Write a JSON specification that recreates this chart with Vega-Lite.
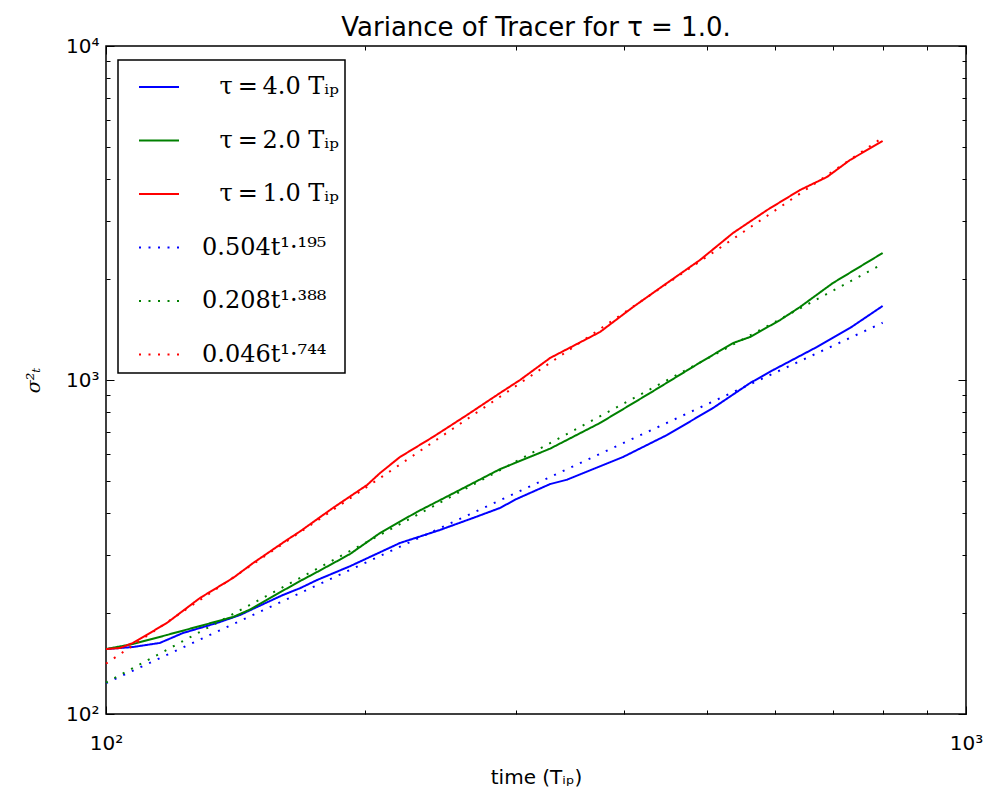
{
  "$schema": "https://vega.github.io/schema/vega-lite/v6.json",
  "width": 860,
  "height": 668,
  "autosize": {"type": "none"},
  "padding": {"left": 106, "top": 46, "right": 25, "bottom": 85},
  "background": "white",
  "title": {"text": "Variance of Tracer for τ = 1.0.", "font": "DejaVu Sans", "fontSize": 26, "fontWeight": "normal", "color": "black", "anchor": "middle", "offset": -5},
  "config": {
    "view": {"stroke": "black", "strokeWidth": 1.5},
    "legend": {"strokeWidth": 1.5}
  },
  "datasets": {
    "curves": [
      {"s": "\u2800τ\u2009=\u20094.0 Tᵢₚ", "t": 100, "v": 156.5},
      {"s": "\u2800τ\u2009=\u20094.0 Tᵢₚ", "t": 107.5, "v": 158.7},
      {"s": "\u2800τ\u2009=\u20094.0 Tᵢₚ", "t": 115.5, "v": 163.2},
      {"s": "\u2800τ\u2009=\u20094.0 Tᵢₚ", "t": 122.9, "v": 174.8},
      {"s": "\u2800τ\u2009=\u20094.0 Tᵢₚ", "t": 134.6, "v": 187.3},
      {"s": "\u2800τ\u2009=\u20094.0 Tᵢₚ", "t": 143.2, "v": 197.9},
      {"s": "\u2800τ\u2009=\u20094.0 Tᵢₚ", "t": 149.8, "v": 209.1},
      {"s": "\u2800τ\u2009=\u20094.0 Tᵢₚ", "t": 160.6, "v": 227.1},
      {"s": "\u2800τ\u2009=\u20094.0 Tᵢₚ", "t": 168.1, "v": 238},
      {"s": "\u2800τ\u2009=\u20094.0 Tᵢₚ", "t": 176.0, "v": 251.9},
      {"s": "\u2800τ\u2009=\u20094.0 Tᵢₚ", "t": 192.2, "v": 277},
      {"s": "\u2800τ\u2009=\u20094.0 Tᵢₚ", "t": 219.7, "v": 325.1},
      {"s": "\u2800τ\u2009=\u20094.0 Tᵢₚ", "t": 244.5, "v": 355.6},
      {"s": "\u2800τ\u2009=\u20094.0 Tᵢₚ", "t": 267.2, "v": 386.3},
      {"s": "\u2800τ\u2009=\u20094.0 Tᵢₚ", "t": 287.2, "v": 413.9},
      {"s": "\u2800τ\u2009=\u20094.0 Tᵢₚ", "t": 300, "v": 440},
      {"s": "\u2800τ\u2009=\u20094.0 Tᵢₚ", "t": 328.4, "v": 488},
      {"s": "\u2800τ\u2009=\u20094.0 Tᵢₚ", "t": 343.6, "v": 503},
      {"s": "\u2800τ\u2009=\u20094.0 Tᵢₚ", "t": 399.2, "v": 588.1},
      {"s": "\u2800τ\u2009=\u20094.0 Tᵢₚ", "t": 449.2, "v": 684.6},
      {"s": "\u2800τ\u2009=\u20094.0 Tᵢₚ", "t": 508.1, "v": 824.6},
      {"s": "\u2800τ\u2009=\u20094.0 Tᵢₚ", "t": 561.0, "v": 979.5},
      {"s": "\u2800τ\u2009=\u20094.0 Tᵢₚ", "t": 596.7, "v": 1071},
      {"s": "\u2800τ\u2009=\u20094.0 Tᵢₚ", "t": 671.0, "v": 1256},
      {"s": "\u2800τ\u2009=\u20094.0 Tᵢₚ", "t": 733.0, "v": 1431},
      {"s": "\u2800τ\u2009=\u20094.0 Tᵢₚ", "t": 800, "v": 1666},

      {"s": "\u2800τ\u2009=\u20092.0 Tᵢₚ", "t": 100, "v": 156.5},
      {"s": "\u2800τ\u2009=\u20092.0 Tᵢₚ", "t": 107.5, "v": 162.0},
      {"s": "\u2800τ\u2009=\u20092.0 Tᵢₚ", "t": 117.7, "v": 172.4},
      {"s": "\u2800τ\u2009=\u20092.0 Tᵢₚ", "t": 128.6, "v": 183.4},
      {"s": "\u2800τ\u2009=\u20092.0 Tᵢₚ", "t": 140.5, "v": 195.2},
      {"s": "\u2800τ\u2009=\u20092.0 Tᵢₚ", "t": 147.1, "v": 205.5},
      {"s": "\u2800τ\u2009=\u20092.0 Tᵢₚ", "t": 160.6, "v": 234},
      {"s": "\u2800τ\u2009=\u20092.0 Tᵢₚ", "t": 168.1, "v": 250},
      {"s": "\u2800τ\u2009=\u20092.0 Tᵢₚ", "t": 176.0, "v": 266.2},
      {"s": "\u2800τ\u2009=\u20092.0 Tᵢₚ", "t": 187.1, "v": 290},
      {"s": "\u2800τ\u2009=\u20092.0 Tᵢₚ", "t": 192.2, "v": 301.3},
      {"s": "\u2800τ\u2009=\u20092.0 Tᵢₚ", "t": 208.3, "v": 348.3},
      {"s": "\u2800τ\u2009=\u20092.0 Tᵢₚ", "t": 229.9, "v": 402.6},
      {"s": "\u2800τ\u2009=\u20092.0 Tᵢₚ", "t": 251.2, "v": 452.6},
      {"s": "\u2800τ\u2009=\u20092.0 Tᵢₚ", "t": 287.2, "v": 541},
      {"s": "\u2800τ\u2009=\u20092.0 Tᵢₚ", "t": 328.4, "v": 623},
      {"s": "\u2800τ\u2009=\u20092.0 Tᵢₚ", "t": 375.3, "v": 743.5},
      {"s": "\u2800τ\u2009=\u20092.0 Tᵢₚ", "t": 429.2, "v": 914.3},
      {"s": "\u2800τ\u2009=\u20092.0 Tᵢₚ", "t": 490.6, "v": 1128},
      {"s": "\u2800τ\u2009=\u20092.0 Tᵢₚ", "t": 535.9, "v": 1290},
      {"s": "\u2800τ\u2009=\u20092.0 Tᵢₚ", "t": 561.0, "v": 1345},
      {"s": "\u2800τ\u2009=\u20092.0 Tᵢₚ", "t": 607.9, "v": 1512},
      {"s": "\u2800τ\u2009=\u20092.0 Tᵢₚ", "t": 641.2, "v": 1654},
      {"s": "\u2800τ\u2009=\u20092.0 Tᵢₚ", "t": 700.3, "v": 1952},
      {"s": "\u2800τ\u2009=\u20092.0 Tᵢₚ", "t": 800, "v": 2400},

      {"s": "\u2800τ\u2009=\u20091.0 Tᵢₚ", "t": 100, "v": 156.5},
      {"s": "\u2800τ\u2009=\u20091.0 Tᵢₚ", "t": 103.8, "v": 157.6},
      {"s": "\u2800τ\u2009=\u20091.0 Tᵢₚ", "t": 107.5, "v": 163.2},
      {"s": "\u2800τ\u2009=\u20091.0 Tᵢₚ", "t": 117.7, "v": 187.3},
      {"s": "\u2800τ\u2009=\u20091.0 Tᵢₚ", "t": 128.6, "v": 222.5},
      {"s": "\u2800τ\u2009=\u20091.0 Tᵢₚ", "t": 140.5, "v": 255.4},
      {"s": "\u2800τ\u2009=\u20091.0 Tᵢₚ", "t": 148.3, "v": 283.2},
      {"s": "\u2800τ\u2009=\u20091.0 Tᵢₚ", "t": 162.3, "v": 331.9},
      {"s": "\u2800τ\u2009=\u20091.0 Tᵢₚ", "t": 168.1, "v": 352},
      {"s": "\u2800τ\u2009=\u20091.0 Tᵢₚ", "t": 183.6, "v": 413.9},
      {"s": "\u2800τ\u2009=\u20091.0 Tᵢₚ", "t": 201.2, "v": 485.0},
      {"s": "\u2800τ\u2009=\u20091.0 Tᵢₚ", "t": 208.3, "v": 526.7},
      {"s": "\u2800τ\u2009=\u20091.0 Tᵢₚ", "t": 219.7, "v": 588.1},
      {"s": "\u2800τ\u2009=\u20091.0 Tᵢₚ", "t": 240.0, "v": 675.2},
      {"s": "\u2800τ\u2009=\u20091.0 Tᵢₚ", "t": 262.9, "v": 785.7},
      {"s": "\u2800τ\u2009=\u20091.0 Tᵢₚ", "t": 287.2, "v": 914.3},
      {"s": "\u2800τ\u2009=\u20091.0 Tᵢₚ", "t": 303.0, "v": 1000},
      {"s": "\u2800τ\u2009=\u20091.0 Tᵢₚ", "t": 328.4, "v": 1164},
      {"s": "\u2800τ\u2009=\u20091.0 Tᵢₚ", "t": 375.3, "v": 1392},
      {"s": "\u2800τ\u2009=\u20091.0 Tᵢₚ", "t": 410.1, "v": 1654},
      {"s": "\u2800τ\u2009=\u20091.0 Tᵢₚ", "t": 449.2, "v": 1952},
      {"s": "\u2800τ\u2009=\u20091.0 Tᵢₚ", "t": 490.6, "v": 2287},
      {"s": "\u2800τ\u2009=\u20091.0 Tᵢₚ", "t": 535.9, "v": 2755},
      {"s": "\u2800τ\u2009=\u20091.0 Tᵢₚ", "t": 587.2, "v": 3228},
      {"s": "\u2800τ\u2009=\u20091.0 Tᵢₚ", "t": 641.2, "v": 3706},
      {"s": "\u2800τ\u2009=\u20091.0 Tᵢₚ", "t": 689.3, "v": 4054},
      {"s": "\u2800τ\u2009=\u20091.0 Tᵢₚ", "t": 733.0, "v": 4557},
      {"s": "\u2800τ\u2009=\u20091.0 Tᵢₚ", "t": 800, "v": 5195},

      {"s": "0.504t¹·¹⁹⁵", "t": 100, "v": 123.7},
      {"s": "0.504t¹·¹⁹⁵", "t": 800, "v": 1484},
      {"s": "0.208t¹·³⁸⁸", "t": 100, "v": 124.2},
      {"s": "0.208t¹·³⁸⁸", "t": 800, "v": 2226},
      {"s": "0.046t¹·⁷⁴⁴", "t": 100, "v": 141.5},
      {"s": "0.046t¹·⁷⁴⁴", "t": 800, "v": 5318}
    ]
  },
  "data": {"name": "curves"},
  "layer": [
    {
      "mark": {"type": "line", "strokeWidth": 2, "strokeCap": "butt"},
      "encoding": {
        "x": {
          "field": "t", "type": "quantitative",
          "scale": {"type": "log", "domain": [100, 1000], "nice": false},
          "axis": {
            "title": "time (Tᵢₚ)", "titleFont": "DejaVu Sans", "titleFontSize": 20, "titleFontWeight": "normal", "titleColor": "black", "titlePadding": 10,
            "values": [100, 200, 300, 400, 500, 600, 700, 800, 900, 1000],
            "labelExpr": "datum.value == 100 ? '10²' : (datum.value == 1000 ? '10³' : '')",
            "labelFont": "DejaVu Sans", "labelFontSize": 20, "labelColor": "black", "labelPadding": 27,
            "labelFlush": false, "labelOverlap": false,
            "grid": false, "domain": false, "tickColor": "black", "tickWidth": 1,
            "tickSize": {"condition": {"test": "datum.value == 100 || datum.value == 1000", "value": -8}, "value": -4}
          }
        },
        "y": {
          "field": "v", "type": "quantitative",
          "scale": {"type": "log", "domain": [100, 10000], "nice": false},
          "axis": {
            "title": "σ²ₜ", "titleFont": "DejaVu Serif", "titleFontSize": 19, "titleFontWeight": "normal", "titleFontStyle": "italic", "titleColor": "black", "titlePadding": 22,
            "values": [100, 200, 300, 400, 500, 600, 700, 800, 900, 1000, 2000, 3000, 4000, 5000, 6000, 7000, 8000, 9000, 10000],
            "labelExpr": "datum.value == 100 ? '10²' : (datum.value == 1000 ? '10³' : (datum.value == 10000 ? '10⁴' : ''))",
            "labelFont": "DejaVu Sans", "labelFontSize": 20, "labelColor": "black", "labelPadding": 15,
            "labelFlush": false, "labelOverlap": false,
            "grid": false, "domain": false, "tickColor": "black", "tickWidth": 1,
            "tickSize": {"condition": {"test": "datum.value == 100 || datum.value == 1000 || datum.value == 10000", "value": -8}, "value": -4}
          }
        },
        "color": {
          "field": "s", "type": "nominal",
          "scale": {
            "domain": ["\u2800τ\u2009=\u20094.0 Tᵢₚ", "\u2800τ\u2009=\u20092.0 Tᵢₚ", "\u2800τ\u2009=\u20091.0 Tᵢₚ", "0.504t¹·¹⁹⁵", "0.208t¹·³⁸⁸", "0.046t¹·⁷⁴⁴"],
            "range": ["#0000ff", "#008000", "#ff0000", "#0000ff", "#008000", "#ff0000"]
          },
          "legend": {
            "orient": "none", "legendX": 12, "legendY": 14, "title": null,
            "strokeColor": "black", "fillColor": "white", "padding": 6, "rowPadding": 20.5,
            "symbolType": "stroke", "symbolSize": 1600, "symbolStrokeWidth": 2, "symbolOffset": 14,
            "labelFont": "DejaVu Serif", "labelFontSize": 24, "labelColor": "black", "labelOffset": 22, "labelLimit": 400
          }
        },
        "strokeDash": {
          "field": "s", "type": "nominal",
          "scale": {
            "domain": ["\u2800τ\u2009=\u20094.0 Tᵢₚ", "\u2800τ\u2009=\u20092.0 Tᵢₚ", "\u2800τ\u2009=\u20091.0 Tᵢₚ", "0.504t¹·¹⁹⁵", "0.208t¹·³⁸⁸", "0.046t¹·⁷⁴⁴"],
            "range": [[1, 0], [1, 0], [1, 0], [2, 7.5], [2, 7.5], [2, 7.5]]
          },
          "legend": {
            "orient": "none", "legendX": 12, "legendY": 14, "title": null,
            "strokeColor": "black", "fillColor": "white", "padding": 6, "rowPadding": 20.5,
            "symbolType": "stroke", "symbolSize": 1600, "symbolStrokeWidth": 2, "symbolOffset": 14,
            "labelFont": "DejaVu Serif", "labelFontSize": 24, "labelColor": "black", "labelOffset": 22, "labelLimit": 400
          }
        }
      }
    },
    {
      "mark": {"type": "point", "opacity": 0},
      "encoding": {
        "x": {
          "field": "t", "type": "quantitative",
          "axis": {
            "orient": "top", "title": null, "labels": false, "grid": false, "domain": false,
            "values": [100, 200, 300, 400, 500, 600, 700, 800, 900, 1000],
            "tickColor": "black", "tickWidth": 1,
            "tickSize": {"condition": {"test": "datum.value == 100 || datum.value == 1000", "value": -8}, "value": -4}
          }
        },
        "y": {
          "field": "v", "type": "quantitative",
          "axis": {
            "orient": "right", "title": null, "labels": false, "grid": false, "domain": false,
            "values": [100, 200, 300, 400, 500, 600, 700, 800, 900, 1000, 2000, 3000, 4000, 5000, 6000, 7000, 8000, 9000, 10000],
            "tickColor": "black", "tickWidth": 1,
            "tickSize": {"condition": {"test": "datum.value == 100 || datum.value == 1000 || datum.value == 10000", "value": -8}, "value": -4}
          }
        }
      }
    }
  ],
  "resolve": {"axis": {"x": "independent", "y": "independent"}}
}
